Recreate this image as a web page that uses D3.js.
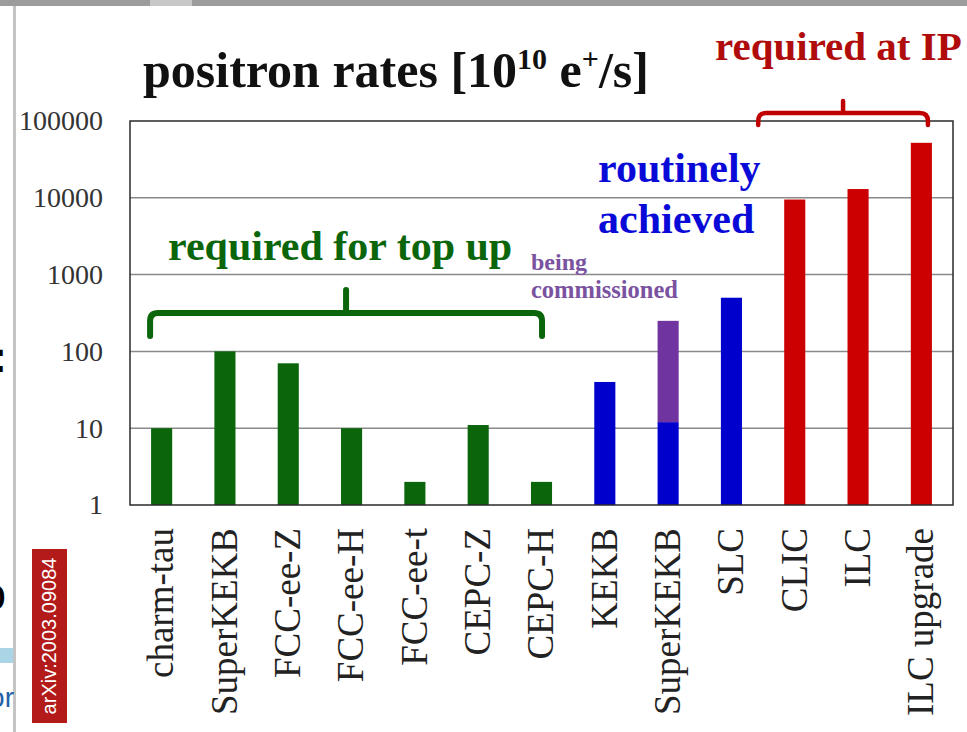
<html>
<head>
	<meta charset="UTF-8">
	<title>positron rates</title>
	<style>
		body { margin: 0; background: #fff; }
		svg text { font-family: "Liberation Serif", "Times New Roman", serif; }
	</style>
</head>
<body>
	<script src="https://cdnjs.cloudflare.com/ajax/libs/d3/7.8.5/d3.min.js"></script>
	<script>
		// data
		var categories = ["charm-tau", "SuperKEKB", "FCC-ee-Z", "FCC-ee-H", "FCC-ee-t", "CEPC-Z", "CEPC-H",
			"KEKB", "SuperKEKB", "SLC", "CLIC", "ILC", "ILC upgrade"];
		var rates = [10, 100, 70, 10, 2, 11, 2, 40, 12, 500, 9500, 13000, 52000];
		var groups = ["topup", "topup", "topup", "topup", "topup", "topup", "topup",
			"achieved", "achieved", "achieved", "ip", "ip", "ip"];
		var commissioning = [null, null, null, null, null, null, null, null, 250, null, null, null, null];
		var yTicks = [1, 10, 100, 1000, 10000, 100000];

		var colors = { topup: "#0b650b", achieved: "#0000cc", ip: "#cc0000", commissioning: "#7034a0" };

		var W = 967, H = 732;
		var plot = { left: 130, right: 953, top: 121, bottom: 505 };

		var svg = d3.select("body").append("svg")
			.attr("width", W)
			.attr("height", H);

		// slide leftovers around the picture
		svg.append("rect").attr("x", 0).attr("y", 0).attr("width", W).attr("height", 6).attr("fill", "#9c9c9c");
		svg.append("rect").attr("x", 150).attr("y", 0).attr("width", 42).attr("height", 6).attr("fill", "#c8c8c8");
		svg.append("rect").attr("x", 13).attr("y", 6).attr("width", 3).attr("height", H).attr("fill", "#c4c4c4");
		svg.append("text").attr("x", 7).attr("y", 372).attr("text-anchor", "end")
			.style("font-family", "Liberation Sans").style("font-size", "44px").style("font-weight", "bold").text(":");
		svg.append("text").attr("x", 6).attr("y", 610).attr("text-anchor", "end")
			.style("font-family", "Liberation Sans").style("font-size", "46px").text("o");
		svg.append("rect").attr("x", 0).attr("y", 648).attr("width", 13).attr("height", 15).attr("fill", "#a9d5e6");
		svg.append("text").attr("x", 14).attr("y", 707).attr("text-anchor", "end").attr("fill", "#2260a8")
			.style("font-family", "Liberation Sans").style("font-size", "28px").text("or");
		svg.append("rect").attr("x", 32).attr("y", 549).attr("width", 35).attr("height", 174).attr("fill", "#b31b1b");
		svg.append("text")
			.attr("transform", "translate(56,636) rotate(-90)")
			.attr("text-anchor", "middle")
			.attr("fill", "#fff")
			.style("font-family", "Liberation Sans").style("font-size", "20px")
			.text("arXiv:2003.09084");

		var x = d3.scaleBand()
			.domain(d3.range(categories.length))
			.range([plot.left, plot.right])
			.paddingInner(0.667)
			.paddingOuter(0.333);
		var y = d3.scaleLog()
			.domain([1, 100000])
			.range([plot.bottom, plot.top]);

		// grid
		svg.append("g").selectAll("line")
			.data(yTicks.slice(1, -1))
			.enter().append("line")
			.attr("x1", plot.left).attr("x2", plot.right)
			.attr("y1", function(d) { return y(d); })
			.attr("y2", function(d) { return y(d); })
			.attr("stroke", "#8a8a8a")
			.attr("stroke-width", 1.5);

		// bars
		svg.append("g").selectAll("rect")
			.data(rates)
			.enter().append("rect")
			.attr("x", function(d, i) { return x(i); })
			.attr("y", function(d) { return y(d); })
			.attr("width", x.bandwidth())
			.attr("height", function(d) { return y(1) - y(d); })
			.attr("fill", function(d, i) { return colors[groups[i]]; });

		svg.append("g").selectAll("rect")
			.data(commissioning.map(function(d, i) { return { i: i, v: d }; }).filter(function(d) { return d.v; }))
			.enter().append("rect")
			.attr("x", function(d) { return x(d.i); })
			.attr("y", function(d) { return y(d.v); })
			.attr("width", x.bandwidth())
			.attr("height", function(d) { return y(rates[d.i]) - y(d.v); })
			.attr("fill", colors.commissioning);

		// frame
		svg.append("rect")
			.attr("x", plot.left).attr("y", plot.top)
			.attr("width", plot.right - plot.left).attr("height", plot.bottom - plot.top)
			.attr("fill", "none")
			.attr("stroke", "#2a2a2a")
			.attr("stroke-width", 1.5);

		// y axis
		var yAxis = svg.append("g")
			.attr("transform", "translate(" + plot.left + ",0)")
			.call(d3.axisLeft(y).tickValues(yTicks).tickFormat(d3.format("d")).tickSize(0).tickPadding(27));
		yAxis.select(".domain").remove();
		yAxis.selectAll("text").attr("fill", "#333")
			.style("font-size", "28px")
			.style("font-family", "Liberation Serif");

		// x axis
		var xAxis = svg.append("g")
			.attr("transform", "translate(0," + plot.bottom + ")")
			.call(d3.axisBottom(x).tickFormat(function(i) { return categories[i]; }).tickSize(0));
		xAxis.select(".domain").remove();
		xAxis.selectAll("text")
			.attr("fill", "#222")
			.attr("y", 0)
			.attr("dy", "0.32em")
			.attr("x", -23)
			.attr("transform", "rotate(-90)")
			.style("text-anchor", "end")
			.style("font-size", "37px")
			.style("font-family", "Liberation Serif");

		// title
		var title = svg.append("text")
			.attr("x", 143).attr("y", 87)
			.style("font-size", "50px").style("font-weight", "bold").attr("fill", "#111");
		title.append("tspan").text("positron rates [10");
		title.append("tspan").attr("dy", -18).style("font-size", "30px").text("10");
		title.append("tspan").attr("dy", 18).text(" e");
		title.append("tspan").attr("dy", -18).style("font-size", "30px").text("+");
		title.append("tspan").attr("dy", 18).text("/s]");

		// group labels
		svg.append("text").attr("x", 715).attr("y", 60).attr("fill", "#b00c0c")
			.style("font-size", "41px").style("font-weight", "bold").text("required at IP");
		svg.append("text").attr("x", 598).attr("y", 182).attr("fill", "#0a0ad8")
			.style("font-size", "42px").style("font-weight", "bold").text("routinely");
		svg.append("text").attr("x", 598).attr("y", 233).attr("fill", "#0a0ad8")
			.style("font-size", "42px").style("font-weight", "bold").text("achieved");
		svg.append("text").attr("x", 168).attr("y", 260).attr("fill", "#0b650b")
			.style("font-size", "42px").style("font-weight", "bold").text("required for top up");
		svg.append("text").attr("x", 531).attr("y", 270).attr("fill", "#7a52a0")
			.style("font-size", "24px").style("font-weight", "bold").text("being");
		svg.append("text").attr("x", 531).attr("y", 298).attr("fill", "#7a52a0")
			.style("font-size", "24.5px").style("font-weight", "bold").text("commissioned");

		// braces spanning each group
		function brace(i0, i1, padL, padR, yLine, yEnd, yPeak, color, w) {
			var x0 = x(i0) - padL, x1 = x(i1) + x.bandwidth() + padR, xm = (x0 + x1) / 2;
			var r = 8;
			var p = d3.path();
			p.moveTo(x0, yEnd);
			p.lineTo(x0, yLine + r);
			p.quadraticCurveTo(x0, yLine, x0 + r, yLine);
			p.lineTo(x1 - r, yLine);
			p.quadraticCurveTo(x1, yLine, x1, yLine + r);
			p.lineTo(x1, yEnd);
			p.moveTo(xm, yLine);
			p.lineTo(xm, yPeak);
			svg.append("path").attr("d", p.toString())
				.attr("fill", "none").attr("stroke", color).attr("stroke-width", w)
				.attr("stroke-linecap", "round").attr("stroke-linejoin", "round");
		}
		brace(0, 6, 1, -10, 313, 336, 290, colors.topup, 6);
		brace(10, 12, 26, -4, 113, 125, 101, "#c00000", 4.5);
	</script>
</body>
</html>
